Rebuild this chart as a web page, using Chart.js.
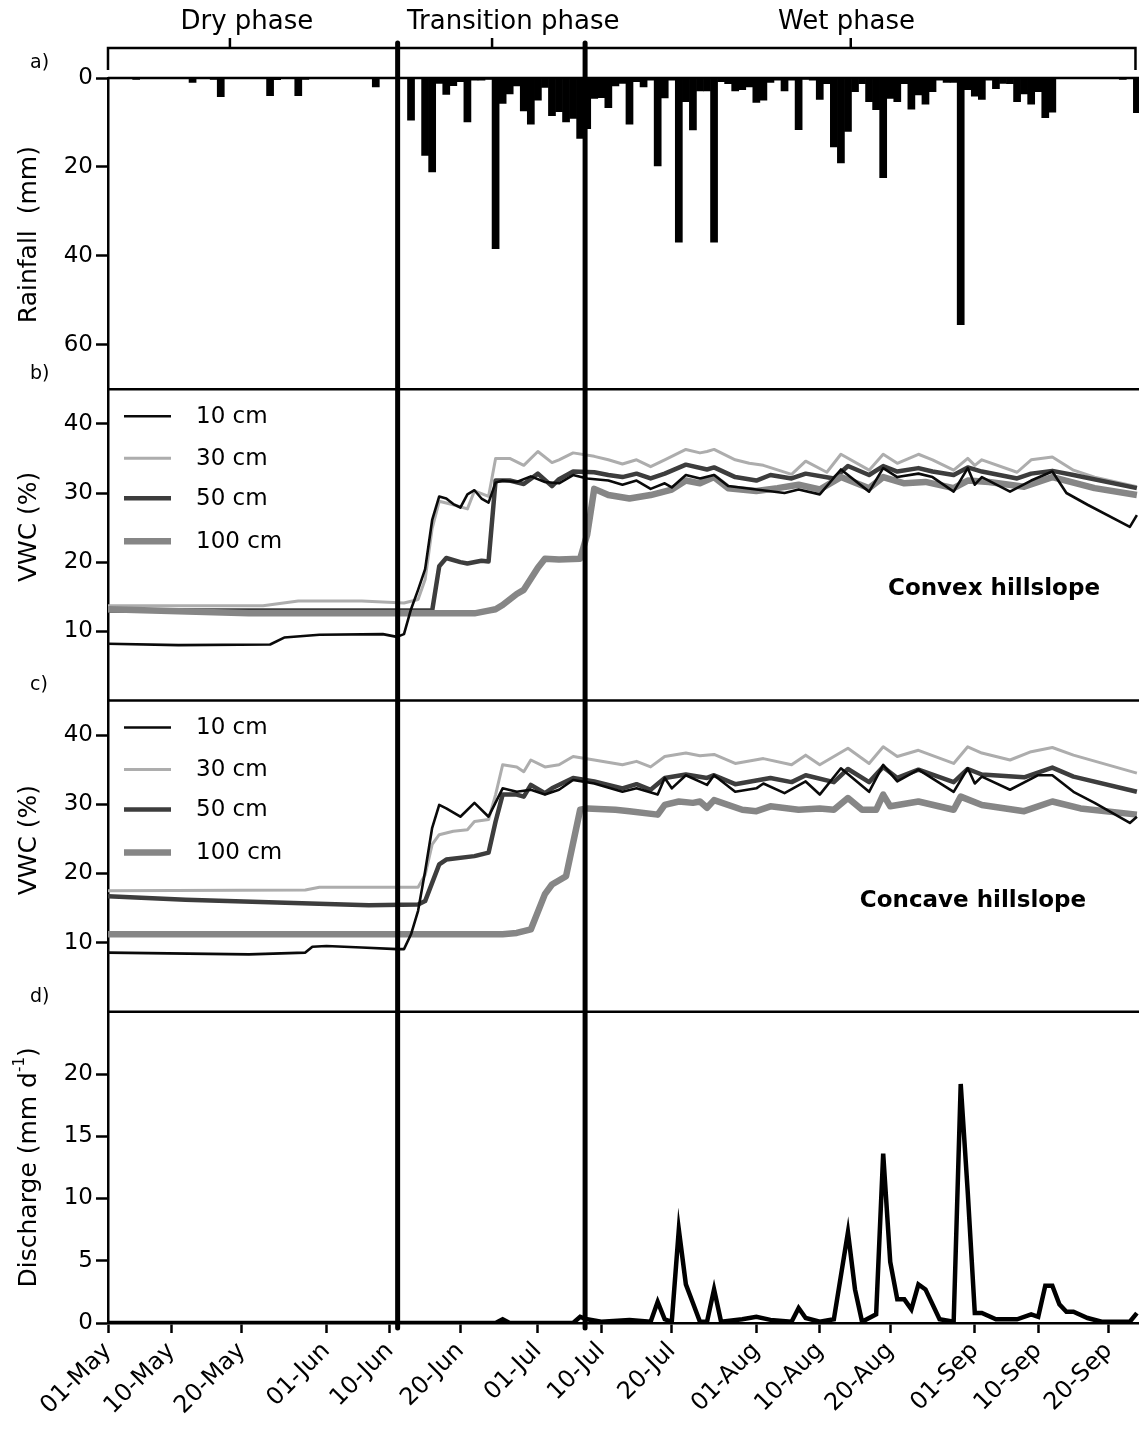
<!DOCTYPE html>
<html>
<head>
<meta charset="utf-8">
<script src="https://cdn.jsdelivr.net/npm/chart.js@4.4.1/dist/chart.umd.min.js"></script>
<style>
  html, body { margin: 0; padding: 0; background: #fff; }
</style>
</head>
<body>
<canvas id="fig" width="1139" height="1430"></canvas>
<script>
// x values are days counted from 01-May (day 0)
const tickDays = [0, 9, 19, 31, 40, 50, 61, 70, 80, 92, 101, 111, 123, 132, 142];
const tickLabels = ['01-May', '10-May', '20-May', '01-Jun', '10-Jun', '20-Jun', '01-Jul', '10-Jul',
                    '20-Jul', '01-Aug', '10-Aug', '20-Aug', '01-Sep', '10-Sep', '20-Sep'];

const phaseNames = ['Dry phase', 'Transition phase', 'Wet phase'];
const phaseLabelDays = [19.7, 57.5, 104.8];
const phaseTickDays = [17.3, 54.5, 105.4];
const phaseBounds = [41.1, 67.7];
const bracketEnds = [0, 145.8];

const panelTags = ['a)', 'b)', 'c)', 'd)'];
const hillNames = ['Convex hillslope', 'Concave hillslope'];
const depthLabels = ['10 cm', '30 cm', '50 cm', '100 cm'];

// daily rainfall [day, mm] (days not listed had no rain)
const rainfall = [
  [4,0.3],[12,1.0],[15,0.3],[16,4.2],[23,4.0],[24,0.4],[27,4.0],[28,0.3],[38,2.0],
  [43,9.5],[45,17.4],[46,21.1],[47,1.2],[48,3.7],[49,1.7],[50,0.8],[51,9.9],[52,0.5],[53,0.5],[54,0.3],
  [55,38.4],[56,5.7],[57,3.6],[58,1.8],[59,7.4],[60,10.4],[61,5.0],[62,2.1],[63,8.5],[64,7.6],
  [65,9.9],[66,9.1],[67,13.6],[68,11.4],[69,4.6],[70,4.4],[71,6.7],[72,1.8],[73,1.2],[74,10.4],
  [75,0.8],[76,2.0],[77,0.5],[78,19.8],[79,4.5],[80,0.5],[81,36.9],[82,5.3],[83,11.7],[84,2.9],
  [85,2.9],[86,36.9],[87,0.8],[88,1.3],[89,2.9],[90,2.6],[91,2.0],[92,5.5],[93,5.0],[94,1.0],
  [95,0.5],[96,2.9],[97,0.5],[98,11.6],[99,0.3],[100,0.5],[101,4.8],[102,1.3],[103,15.5],[104,19.1],
  [105,12.0],[106,3.1],[107,1.3],[108,5.3],[109,7.1],[110,22.4],[111,4.6],[112,5.3],[113,1.3],[114,7.0],
  [115,3.8],[116,5.9],[117,3.1],[118,0.5],[119,1.0],[120,1.0],[121,55.5],[122,2.6],[123,4.1],[124,4.8],
  [125,0.5],[126,2.4],[127,1.2],[128,1.3],[129,5.3],[130,3.6],[131,5.9],[132,3.1],[133,8.9],[134,7.7],
  [144,0.3],[146,7.8]
];

// volumetric water content, convex hillslope [day, %]
const cvx10 = [[0,8.2],[10,8.0],[23,8.1],[25,9.1],[30,9.5],[39,9.6],[41,9.2],[42,9.6],[43,13.2],[44,16],
  [45,19],[46,26.1],[47,29.5],[48,29.2],[49,28.4],[50,27.9],[51,29.8],[52,30.4],[53,29.2],[54,28.6],
  [55,31.5],[56,31.8],[58,31.6],[60,32.4],[62,31.6],[64,31.4],[66,32.6],[68,32.1],[71,31.8],[73,31.2],
  [75,31.8],[77,30.6],[79,31.4],[80,30.8],[82,32.6],[84,32.1],[86,32.6],[88,31.0],[92,30.5],[96,30.0],
  [98,30.5],[101,29.8],[104,33.4],[108,30.2],[110,33.6],[112,32.3],[115,32.8],[117,32.3],[120,30.2],
  [122,33.6],[123,31.2],[124,32.3],[128,30.2],[131,31.8],[134,33.1],[136,30.0],[139,28.3],[145,25.1],[146,26.8]];
const cvx30 = [[0,13.7],[22,13.7],[27,14.4],[36,14.4],[42,14.1],[44,14.6],[45,17.5],[46,24.9],[47,28.8],
  [49,28.3],[51,27.7],[52,30.3],[54,29.5],[55,35.0],[57,35.0],[59,34.0],[61,36.0],[63,34.4],[64,34.8],
  [66,35.8],[69,35.3],[71,34.8],[73,34.2],[75,34.8],[77,33.8],[79,34.8],[82,36.3],[84,35.8],[85,36.0],
  [86,36.3],[89,34.8],[91,34.3],[93,34.0],[97,32.7],[99,34.6],[102,33.0],[104,35.6],[108,33.3],[110,35.6],
  [112,34.3],[115,35.6],[117,34.8],[120,33.3],[122,35.0],[123,34.0],[124,34.8],[129,33.0],[131,34.8],
  [134,35.2],[137,33.3],[140,32.3],[146,30.9]];
const cvx50 = [[0,13.0],[46,13.0],[47,19.4],[48,20.6],[50,20.0],[51,19.8],[53,20.2],[54,20.1],[55,31.8],
  [57,31.8],[59,31.3],[61,32.8],[63,31.0],[64,32.0],[66,33.1],[69,33.0],[71,32.6],[73,32.3],[75,32.8],
  [77,32.1],[79,32.8],[82,34.1],[85,33.4],[86,33.7],[89,32.3],[92,31.8],[94,32.6],[97,32.1],[99,32.8],
  [103,32.1],[105,33.9],[108,32.6],[110,33.9],[112,33.1],[115,33.6],[117,33.1],[120,32.6],[122,33.7],
  [124,33.1],[129,32.1],[131,32.8],[134,33.2],[137,32.6],[146,30.7]];
const cvx100 = [[0,13.2],[10,12.9],[20,12.6],[52,12.6],[54,13.0],[55,13.2],[56,13.8],[58,15.4],[59,16.0],
  [61,19.2],[62,20.5],[64,20.4],[67,20.5],[68,24.0],[69,30.6],[71,29.7],[74,29.2],[77,29.7],[80,30.5],
  [82,31.8],[84,31.4],[86,32.3],[88,30.7],[92,30.3],[95,30.7],[98,31.2],[101,30.5],[104,32.3],[108,30.7],
  [110,32.3],[113,31.4],[116,31.6],[120,30.7],[122,31.8],[125,31.6],[130,30.9],[134,32.3],[140,30.7],[146,29.7]];

// volumetric water content, concave hillslope [day, %]
const ccv10 = [[0,8.55],[20,8.3],[28,8.55],[29,9.4],[31,9.5],[36,9.3],[41,9.05],[42,9.05],[43,11.2],
  [44,14.6],[45,20.3],[46,26.6],[47,29.9],[48,29.4],[50,28.2],[52,30.2],[54,28.2],[56,32.3],[58,31.8],
  [60,32.1],[62,31.4],[64,32.1],[66,33.5],[69,33.0],[73,31.8],[75,32.3],[78,31.4],[79,33.8],[80,32.3],
  [82,34.2],[85,32.8],[86,34.2],[89,31.8],[92,32.3],[93,33.0],[96,31.6],[99,33.3],[101,31.4],[104,35.2],
  [108,31.8],[110,35.7],[112,33.3],[115,35.0],[120,31.8],[122,35.2],[123,33.0],[124,34.0],[128,32.1],
  [132,34.2],[134,34.2],[137,31.8],[140,30.2],[145,27.3],[146,28.2]];
const ccv30 = [[0,17.5],[28,17.6],[30,18.0],[44,18.0],[45,19.8],[46,24.2],[47,25.6],[49,26.1],[51,26.3],
  [52,27.5],[54,27.8],[55,31.4],[56,35.7],[58,35.4],[59,34.7],[60,36.4],[62,35.4],[64,35.7],[66,36.9],
  [69,36.4],[73,35.7],[75,36.2],[77,35.4],[79,36.9],[82,37.4],[84,37.0],[86,37.2],[89,35.9],[93,36.6],
  [97,35.7],[99,37.1],[101,35.7],[105,38.1],[108,35.9],[110,38.3],[112,36.9],[115,37.8],[120,35.9],
  [122,38.3],[124,37.4],[128,36.4],[131,37.6],[134,38.2],[137,37.1],[146,34.5]];
const ccv50 = [[0,16.7],[11,16.2],[24,15.8],[37,15.4],[44,15.5],[45,16.0],[47,21.3],[48,22.0],[52,22.5],
  [54,23.0],[55,27.5],[56,31.4],[58,31.4],[59,31.1],[60,32.8],[62,31.6],[63,32.3],[66,33.8],[69,33.3],
  [73,32.3],[75,32.9],[77,32.1],[79,33.8],[82,34.3],[85,33.8],[86,34.2],[89,32.9],[94,33.8],[97,33.2],
  [99,34.2],[103,33.2],[105,35.1],[108,33.2],[110,35.4],[112,33.8],[115,35.0],[120,33.2],[122,35.1],
  [124,34.3],[130,33.9],[134,35.3],[137,34.0],[146,31.8]];
const ccv100 = [[0,11.2],[56,11.2],[58,11.4],[60,11.9],[62,17.0],[63,18.4],[65,19.6],[67,29.2],[68,29.4],
  [72,29.2],[74,29.0],[78,28.5],[79,29.9],[81,30.4],[83,30.2],[84,30.4],[85,29.5],[86,30.6],[90,29.2],
  [92,29.0],[94,29.7],[98,29.2],[101,29.4],[103,29.2],[105,30.9],[107,29.2],[109,29.2],[110,31.4],
  [111,29.7],[115,30.4],[120,29.2],[121,31.1],[124,29.9],[130,29.0],[134,30.4],[138,29.4],[146,28.5]];

// stream discharge [day, mm/d]
const discharge = [[0,0],[55,0],[56,0.3],[57,0],[66,0],[67,0.5],[68,0.3],[70,0.1],[74,0.25],[77,0.1],
  [78,1.7],[79,0.3],[80,0.1],[81,7.5],[82,3.1],[83,1.6],[84,0.1],[85,0.1],[86,2.7],[87,0.1],[90,0.3],
  [92,0.5],[94,0.25],[97,0.1],[98,1.2],[99,0.4],[101,0.1],[103,0.3],[105,7.3],[106,2.7],[107,0.1],
  [109,0.7],[110,13.6],[111,4.9],[112,1.9],[113,1.9],[114,1.1],[115,3.1],[116,2.7],[118,0.3],[120,0.1],
  [121,19.2],[122,10.5],[123,0.8],[124,0.8],[126,0.3],[129,0.3],[131,0.7],[132,0.5],[133,3.0],[134,3.0],
  [135,1.5],[136,0.9],[137,0.9],[139,0.4],[141,0.1],[145,0.1],[146,0.8]];

const rainTicks = [0, 20, 40, 60];
const vwcTicks = [10, 20, 30, 40];
const qTicks = [0, 5, 10, 15, 20];

// styles
const FONT = '"DejaVu Sans", "Liberation Sans", sans-serif';
const depthColors = ['#0a0a0a', '#adadad', '#3d3d3d', '#868686'];
const depthWidths = [2.6, 3, 4.5, 6.5];
const depthOrder = [1, 4, 3, 2];
const legendRows = [28, 70, 110, 153];

const toXY = arr => arr.map(p => ({x: p[0], y: p[1]}));

function depthSet(pts, i, axis) {
    return {
        type: 'line',
        label: depthLabels[i],
        data: toXY(pts),
        yAxisID: axis,
        borderColor: depthColors[i],
        borderWidth: depthWidths[i],
        borderJoinStyle: 'round',
        pointRadius: 0,
        tension: 0,
        fill: false,
        order: depthOrder[i]
    };
}

function yScale(weight, min, max, tickList, reverse) {
    return {
        type: 'linear',
        position: 'left',
        stack: 'panels',
        stackWeight: 1,
        weight: weight,
        min: min,
        max: max,
        reverse: !!reverse,
        border: { display: true, color: '#000', width: 2.5 },
        grid: { drawOnChartArea: false, drawTicks: true, tickLength: 12, tickWidth: 2.5, tickColor: '#000' },
        ticks: { color: '#000', font: { family: FONT, size: 23 }, padding: 3 },
        afterBuildTicks: s => { s.ticks = tickList.map(v => ({ value: v })); },
        afterFit: s => { s.width = 108; }
    };
}

function vText(ctx, text, cx, cy) {
    ctx.save();
    ctx.translate(cx, cy);
    ctx.rotate(-Math.PI / 2);
    ctx.textAlign = 'center';
    ctx.textBaseline = 'middle';
    ctx.fillText(text, 0, 0);
    ctx.restore();
}

const decor = {
    id: 'decor',
    afterDraw(chart) {
        const ctx = chart.ctx;
        const area = chart.chartArea;
        const sc = chart.scales;
        const x = sc.x;
        const panels = ['yRain', 'yCvx', 'yCcv', 'yQ'];

        ctx.save();
        ctx.strokeStyle = '#000';
        ctx.fillStyle = '#000';

        // frame line on top of each panel
        ctx.lineWidth = 2.5;
        panels.forEach(id => {
            ctx.beginPath();
            ctx.moveTo(area.left, sc[id].top);
            ctx.lineTo(area.right, sc[id].top);
            ctx.stroke();
        });

        // phase bracket
        const by = area.top - 30;
        const bx0 = x.getPixelForValue(bracketEnds[0]);
        const bx1 = x.getPixelForValue(bracketEnds[1]);
        ctx.beginPath();
        ctx.moveTo(bx0, area.top - 8);
        ctx.lineTo(bx0, by);
        ctx.lineTo(bx1, by);
        ctx.lineTo(bx1, area.top - 8);
        ctx.stroke();
        phaseTickDays.forEach(d => {
            const px = x.getPixelForValue(d);
            ctx.beginPath();
            ctx.moveTo(px, by);
            ctx.lineTo(px, by - 10);
            ctx.stroke();
        });
        ctx.font = '26px ' + FONT;
        ctx.textAlign = 'center';
        ctx.textBaseline = 'alphabetic';
        phaseNames.forEach((t, i) => ctx.fillText(t, x.getPixelForValue(phaseLabelDays[i]), area.top - 49));

        // phase boundaries
        ctx.lineWidth = 5;
        ctx.lineCap = 'round';
        phaseBounds.forEach(d => {
            const px = x.getPixelForValue(d);
            ctx.beginPath();
            ctx.moveTo(px, area.top - 35);
            ctx.lineTo(px, area.bottom + 5);
            ctx.stroke();
        });
        ctx.lineCap = 'butt';

        // panel letters
        ctx.font = '19px ' + FONT;
        ctx.textAlign = 'left';
        ctx.textBaseline = 'middle';
        panels.forEach((id, i) => ctx.fillText(panelTags[i], 30, sc[id].top - 15));

        // legends in b) and c)
        ctx.font = '23px ' + FONT;
        ['yCvx', 'yCcv'].forEach(id => {
            depthLabels.forEach((lab, i) => {
                const yy = sc[id].top + legendRows[i];
                ctx.strokeStyle = depthColors[i];
                ctx.lineWidth = depthWidths[i];
                ctx.beginPath();
                ctx.moveTo(area.left + 16, yy - 1);
                ctx.lineTo(area.left + 63, yy - 1);
                ctx.stroke();
                ctx.fillText(lab, area.left + 88, yy);
            });
        });

        // hillslope names
        ctx.font = 'bold 23px ' + FONT;
        ctx.textAlign = 'center';
        ctx.textBaseline = 'alphabetic';
        ctx.fillText(hillNames[0], 994, sc.yCvx.top + 206);
        ctx.fillText(hillNames[1], 973, sc.yCcv.top + 206);

        // axis titles
        ctx.font = '25px ' + FONT;
        const mid = id => (sc[id].top + sc[id].bottom) / 2;
        vText(ctx, 'Rainfall  (mm)', 29, mid('yRain') + 1);
        vText(ctx, 'VWC (%)', 29, mid('yCvx') - 18);
        vText(ctx, 'VWC (%)', 29, mid('yCcv') - 16);

        // Discharge (mm d-1) with superscript
        const t1 = 'Discharge (mm d', t2 = '-1', t3 = ')';
        ctx.font = '25px ' + FONT;
        const w1 = ctx.measureText(t1).width, w3 = ctx.measureText(t3).width;
        ctx.font = '15px ' + FONT;
        const w2 = ctx.measureText(t2).width;
        const total = w1 + w2 + w3;
        ctx.save();
        ctx.translate(29, mid('yQ'));
        ctx.rotate(-Math.PI / 2);
        ctx.textAlign = 'left';
        ctx.textBaseline = 'middle';
        ctx.font = '25px ' + FONT;
        ctx.fillText(t1, -total / 2, 0);
        ctx.font = '15px ' + FONT;
        ctx.fillText(t2, -total / 2 + w1, -9);
        ctx.font = '25px ' + FONT;
        ctx.fillText(t3, -total / 2 + w1 + w2, 0);
        ctx.restore();

        ctx.restore();
    }
};

new Chart(document.getElementById('fig'), {
    type: 'line',
    data: {
        datasets: [
            {
                type: 'bar',
                label: 'Rainfall',
                data: toXY(rainfall),
                yAxisID: 'yRain',
                backgroundColor: '#000',
                borderWidth: 0,
                barPercentage: 1,
                categoryPercentage: 1,
                order: 6
            },
            depthSet(cvx10, 0, 'yCvx'),
            depthSet(cvx30, 1, 'yCvx'),
            depthSet(cvx50, 2, 'yCvx'),
            depthSet(cvx100, 3, 'yCvx'),
            depthSet(ccv10, 0, 'yCcv'),
            depthSet(ccv30, 1, 'yCcv'),
            depthSet(ccv50, 2, 'yCcv'),
            depthSet(ccv100, 3, 'yCcv'),
            {
                type: 'line',
                label: 'Discharge',
                data: toXY(discharge),
                yAxisID: 'yQ',
                borderColor: '#000',
                borderWidth: 4.5,
                borderJoinStyle: 'miter',
                pointRadius: 0,
                tension: 0,
                fill: false,
                order: 0
            }
        ]
    },
    options: {
        responsive: false,
        animation: false,
        devicePixelRatio: 1,
        layout: { padding: { top: 78, left: 0, right: 0, bottom: 0 } },
        plugins: { legend: { display: false }, tooltip: { enabled: false } },
        scales: {
            x: {
                type: 'linear',
                position: 'bottom',
                min: 0,
                max: 146.3,
                offset: false,
                border: { display: true, color: '#000', width: 2.5 },
                grid: { drawOnChartArea: false, drawTicks: true, tickLength: 10, tickWidth: 2.5, tickColor: '#000', offset: false },
                ticks: {
                    color: '#000',
                    font: { family: FONT, size: 24 },
                    autoSkip: false,
                    minRotation: 45,
                    maxRotation: 45,
                    padding: 4,
                    callback: (v, i) => tickLabels[i]
                },
                afterBuildTicks: s => { s.ticks = tickDays.map(v => ({ value: v })); },
                afterFit: s => { s.height = 107; s.paddingLeft = 0; s.paddingRight = 0; }
            },
            yRain: yScale(4, 0, 70, rainTicks, true),
            yCvx: yScale(3, 0, 45, vwcTicks),
            yCcv: yScale(2, 0, 45, vwcTicks),
            yQ: yScale(1, 0, 25, qTicks)
        }
    },
    plugins: [decor]
});
</script>
</body>
</html>
